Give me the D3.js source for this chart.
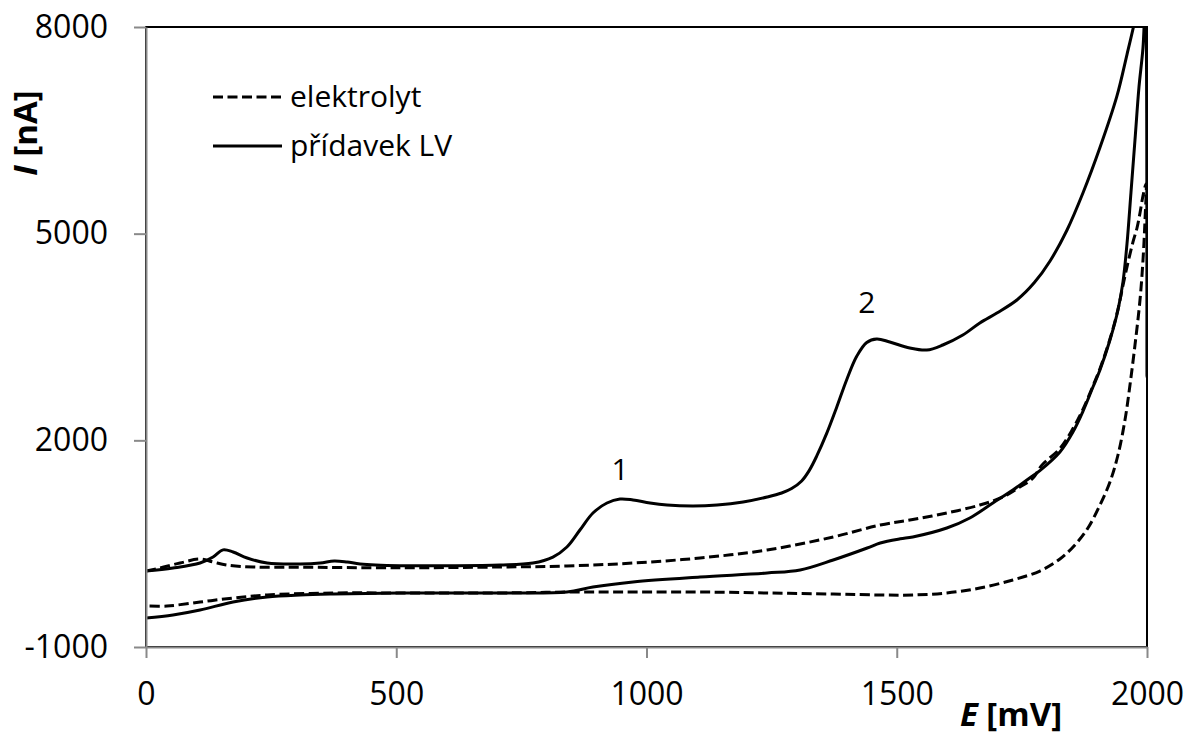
<!DOCTYPE html>
<html>
<head>
<meta charset="utf-8">
<script src="https://cdn.jsdelivr.net/npm/d3@7"></script>
<style>
  html, body { margin: 0; padding: 0; background: #fff; }
  svg { display: block; }
  text { font-family: "Open Sans", "Noto Sans", sans-serif; fill: #000; }
</style>
</head>
<body>
<svg id="chart" width="1187" height="737"></svg>
<script>
// Cyclic voltammograms: potential E [mV] vs current I [nA]
// Each branch is a list of [E, I] points in scan order.

// supporting electrolyte, anodic sweep
const elektrolytForward = [
  [0,103],[28,147],[68,219],[108,277],[134,234],[162,190],[214,161],[300,158],
  [507,150],[707,161],[841,176],[973,219],[1107,292],[1241,408],[1373,597],
  [1467,771],[1532,850],[1600,945],[1666,1061],[1712,1177],[1746,1323],[1772,1450],
  [1790,1640],[1826,1880],[1852,2170],[1872,2450],[1892,2790],[1906,3040],
  [1926,3470],[1942,3900],[1952,4250],[1962,4580],[1972,4880],[1980,5082],
  [1986,5300],[1992,5550],[1998,5720]
];
// supporting electrolyte, cathodic sweep back to 0 mV
const elektrolytReverse = [
  [1998,5720],[1996,5198],[1992,4618],[1986,4037],[1976,3384],[1966,2803],
  [1956,2295],[1942,1787],[1926,1395],[1906,1061],[1882,727],[1856,481],
  [1826,277],[1786,103],[1732,-27],[1666,-144],[1600,-216],[1532,-245],
  [1467,-245],[1373,-231],[1241,-216],[1107,-202],[973,-202],[841,-202],
  [707,-216],[507,-216],[374,-216],[242,-245],[174,-289],[108,-347],[42,-405],[0,-405]
];
// with added LV, anodic sweep (peaks 1 and 2)
const lvForward = [
  [0,103],[54,147],[108,219],[134,306],[154,410],[174,379],[202,292],[242,219],
  [308,205],[348,219],[376,250],[402,234],[428,205],[507,180],[600,180],[707,190],
  [773,219],[813,306],[841,452],[867,698],[893,945],[921,1090],[947,1148],
  [973,1134],[1007,1090],[1041,1061],[1093,1047],[1141,1061],[1193,1105],
  [1241,1177],[1270,1235],[1290,1300],[1310,1410],[1325,1560],[1340,1770],
  [1360,2100],[1380,2480],[1400,2880],[1420,3220],[1440,3420],[1460,3471],
  [1486,3427],[1526,3340],[1560,3311],[1592,3384],[1632,3529],[1666,3703],
  [1700,3848],[1740,4037],[1775,4290],[1806,4600],[1840,5050],[1872,5590],
  [1906,6250],[1940,7000],[1960,7600],[1976,8100],[1990,8600],[2000,8950]
];
// with added LV, cathodic sweep back to 0 mV
const lvReverse = [
  [2000,8950],[2000,2920],[1997,8400],[1992,7700],[1984,7130],[1976,6360],
  [1968,5600],[1960,4850],[1952,4300],[1942,3892],[1926,3456],[1906,3021],
  [1892,2774],[1872,2420],[1852,2120],[1826,1830],[1786,1560],[1760,1424],
  [1732,1279],[1692,1090],[1646,873],[1600,727],[1532,597],[1507,570],
  [1467,510],[1441,437],[1373,263],[1307,118],[1241,74],[1107,16],[973,-56],
  [893,-129],[841,-202],[707,-216],[507,-216],[374,-231],[308,-245],[242,-274],
  [174,-347],[108,-463],[54,-535],[0,-579]
];

const xTicks = [0, 500, 1000, 1500, 2000];
const yTicks = [-1000, 2000, 5000, 8000];
const legendLabels = ["elektrolyt", "přídavek LV"];
const peakLabels = ["1", "2"];
const peakLabelE = [947, 1440];
const peakLabelI = [1424, 3848];

const svg = d3.select("#chart");
const mLeft = 146, mRight = 1147, mTop = 27, mBottom = 647;
const TICK_FONT = 32, TEXT_FONT = 30, TITLE_FONT = 33;

const x = d3.scaleLinear().domain([0, 2000]).range([mLeft, mRight]);
const y = d3.scaleLinear().domain([-1000, 8000]).range([mBottom, mTop]);

svg.append("defs").append("clipPath").attr("id", "plot")
  .append("rect").attr("x", mLeft).attr("y", mTop)
  .attr("width", mRight - mLeft).attr("height", mBottom - mTop);

// plot area frame (top and right edges black)
svg.append("rect").attr("x", mLeft).attr("y", mTop)
  .attr("width", mRight - mLeft).attr("height", mBottom - mTop)
  .attr("fill", "none").attr("stroke", "#000").attr("stroke-width", 2);

const line = d3.line()
  .x(d => x(d[0])).y(d => y(d[1]))
  .curve(d3.curveCatmullRom.alpha(0.5));

const curves = svg.append("g").attr("clip-path", "url(#plot)");
const series = [
  { pts: elektrolytForward.concat(elektrolytReverse.slice(1)), dash: "10,4.5" },
  { pts: lvForward.concat(lvReverse.slice(1)), dash: null }
];
series.forEach(s => {
  curves.append("path").datum(s.pts)
    .attr("d", line)
    .attr("fill", "none")
    .attr("stroke", "#000")
    .attr("stroke-width", 3)
    .attr("stroke-linejoin", "round")
    .attr("stroke-dasharray", s.dash);
});

// axes
const gray = "#898989";
const yAxis = svg.append("g").attr("transform", `translate(${mLeft},0)`)
  .call(d3.axisLeft(y).tickValues(yTicks).tickSize(12).tickPadding(26).tickSizeOuter(0)
        .tickFormat(d => String(d)));
const xAxis = svg.append("g").attr("transform", `translate(0,${mBottom})`)
  .call(d3.axisBottom(x).tickValues(xTicks).tickSize(11).tickPadding(24).tickSizeOuter(0)
        .tickFormat(d => String(d)));
[yAxis, xAxis].forEach(a => {
  a.select(".domain").attr("stroke", gray).attr("stroke-width", 2);
  a.selectAll(".tick line").attr("stroke", gray).attr("stroke-width", 2);
  a.selectAll(".tick text").attr("font-size", TICK_FONT).attr("fill", "#000")
    .style("font-family", "'Open Sans', 'Noto Sans', sans-serif");
});

// axis titles
const xt = svg.append("text").attr("x", 1011).attr("y", 726)
  .attr("text-anchor", "middle").attr("font-size", TITLE_FONT).attr("font-weight", "bold");
xt.append("tspan").attr("font-style", "italic").text("E");
xt.append("tspan").text(" [mV]");

const yt = svg.append("text").attr("transform", "translate(37,133) rotate(-90)")
  .attr("text-anchor", "middle").attr("font-size", TITLE_FONT).attr("font-weight", "bold");
yt.append("tspan").attr("font-style", "italic").text("I");
yt.append("tspan").text(" [nA]");

// peak annotations
peakLabels.forEach((t, i) => {
  svg.append("text").attr("x", x(peakLabelE[i])).attr("y", y(peakLabelI[i]))
    .attr("text-anchor", "middle").attr("font-size", TEXT_FONT).text(t);
});

// legend
const legend = svg.append("g");
legendLabels.forEach((t, i) => {
  const ly = 97 + i * 49;
  legend.append("line").attr("x1", 213).attr("x2", 282).attr("y1", ly).attr("y2", ly)
    .attr("stroke", "#000").attr("stroke-width", 3)
    .attr("stroke-dasharray", i === 0 ? "10,4.5" : null);
  legend.append("text").attr("x", 290).attr("y", ly + 10)
    .attr("font-size", TEXT_FONT).text(t);
});
</script>
</body>
</html>
